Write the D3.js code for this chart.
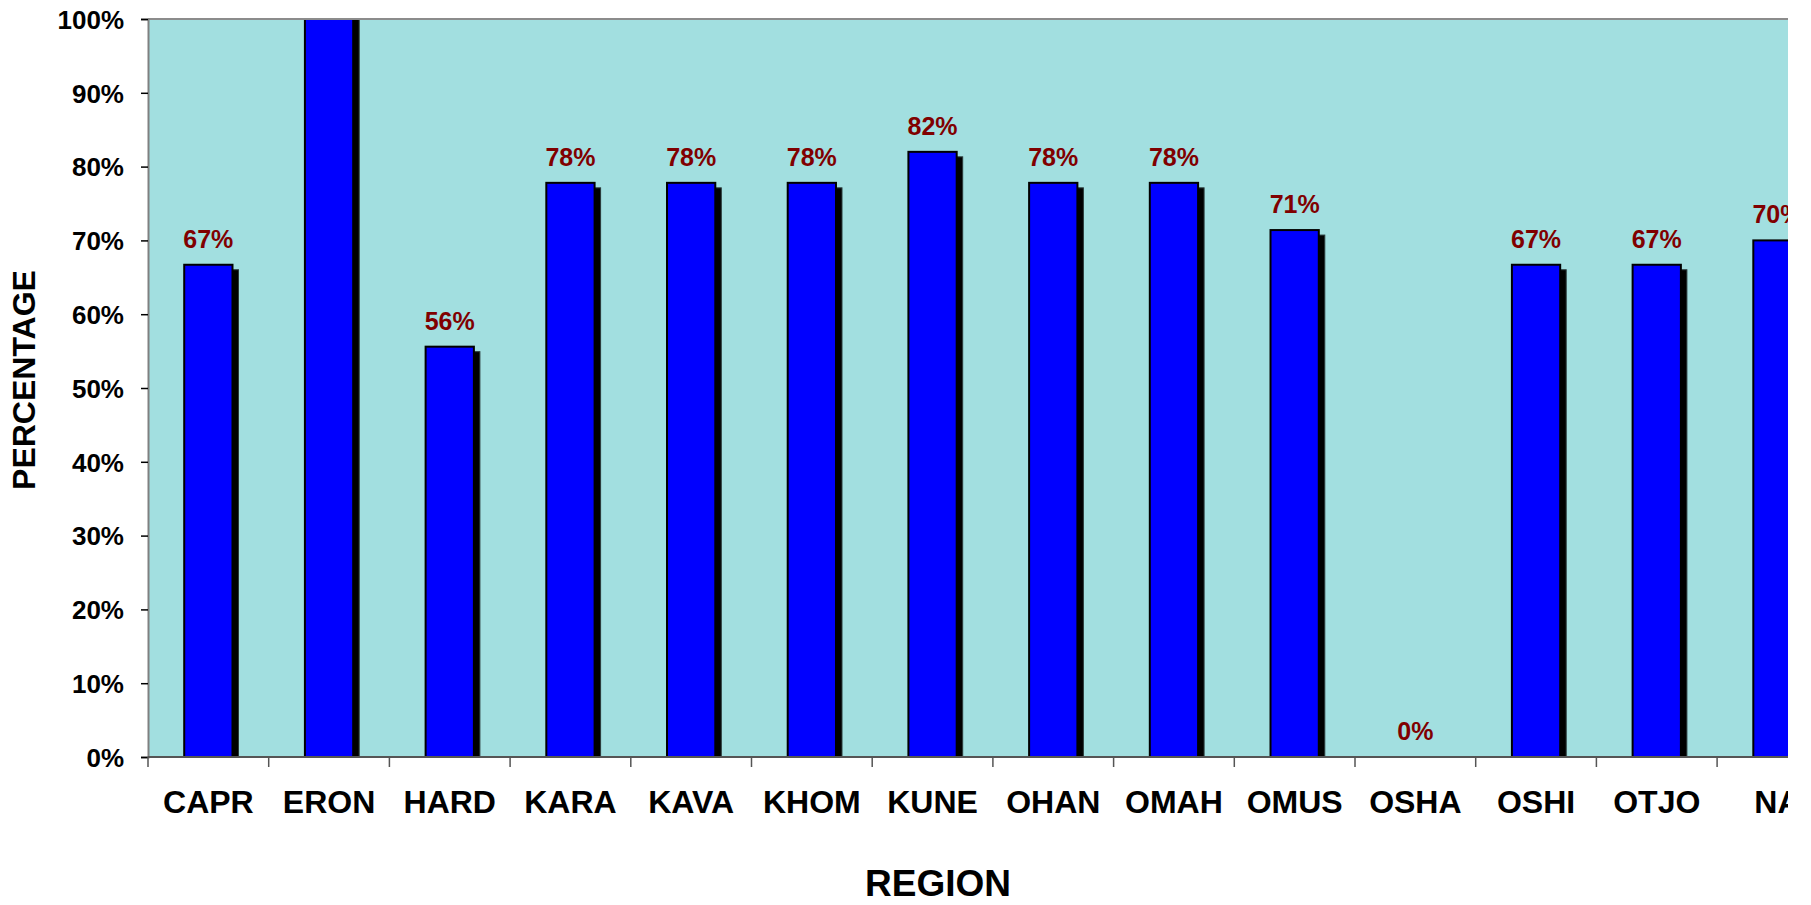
<!DOCTYPE html>
<html>
<head>
<meta charset="utf-8">
<title>Percentage by region</title>
<script src="https://d3js.org/d3.v7.min.js"></script>
<style>
  body { margin: 0; background: #fff; overflow: hidden; }
  text { font-family: "Liberation Sans", Arial, sans-serif; font-weight: bold; }
</style>
</head>
<body>
<div id="chart"></div>
<script>
// data
var regions = ["CAPR", "ERON", "HARD", "KARA", "KAVA", "KHOM", "KUNE",
               "OHAN", "OMAH", "OMUS", "OSHA", "OSHI", "OTJO", "NA"];
var percentages = [0.667, 1.0, 0.556, 0.778, 0.778, 0.778, 0.82,
                   0.778, 0.778, 0.714, 0, 0.667, 0.667, 0.70];
var yTicks = [0, 0.1, 0.2, 0.3, 0.4, 0.5, 0.6, 0.7, 0.8, 0.9, 1.0];

// the original chart runs past the right edge, so the page cuts it at 1788
var width = 1788, height = 905;
var plotLeft = 148, plotTop = 19, plotBottom = 757;
var step = 120.7;
var plotRight = plotLeft + regions.length * step;

var svg = d3.select("#chart")
    .append("svg")
    .attr("width", width)
    .attr("height", height);

var x = d3.scaleBand()
    .domain(regions)
    .range([plotLeft, plotRight])
    .paddingInner(0.6)
    .paddingOuter(0.3);

var y = d3.scaleLinear()
    .domain([0, 1])
    .range([plotBottom, plotTop]);

svg.append("clipPath")
    .attr("id", "plotclip")
  .append("rect")
    .attr("x", plotLeft)
    .attr("y", plotTop)
    .attr("width", plotRight - plotLeft)
    .attr("height", plotBottom - plotTop);

// plot background
svg.append("rect")
    .attr("x", plotLeft)
    .attr("y", plotTop)
    .attr("width", plotRight - plotLeft)
    .attr("height", plotBottom - plotTop)
    .attr("fill", "#a2dfe0");

var plot = svg.append("g").attr("clip-path", "url(#plotclip)");

// shadows behind the bars (full height bars get a shadow up to the border)
plot.selectAll(".shadow")
    .data(percentages)
    .enter()
    .append("rect")
      .attr("class", "shadow")
      .attr("x", function(d, i) { return x(regions[i]) + 6; })
      .attr("y", function(d) { return d >= 1 ? y(d) : y(d) + 5; })
      .attr("width", x.bandwidth())
      .attr("height", function(d) { return Math.max(0, plotBottom - y(d) - (d >= 1 ? 0 : 5)); })
      .attr("fill", "#000")
      .attr("stroke", "#2a3a3a")
      .attr("stroke-width", 1);

// the bars
plot.selectAll(".bar")
    .data(percentages)
    .enter()
    .append("rect")
      .attr("class", "bar")
      .attr("x", function(d, i) { return x(regions[i]); })
      .attr("y", function(d) { return y(d); })
      .attr("width", x.bandwidth())
      .attr("height", function(d) { return plotBottom - y(d); })
      .attr("fill", "#0000ff")
      .attr("stroke", "#000")
      .attr("stroke-width", 2)
      .style("display", function(d) { return d > 0 ? null : "none"; });

// value labels
plot.selectAll(".lbl")
    .data(percentages)
    .enter()
    .append("text")
      .attr("class", "lbl")
      .attr("x", function(d, i) { return x(regions[i]) + x.bandwidth() / 2; })
      .attr("y", function(d) { return y(d) - 17; })
      .attr("text-anchor", "middle")
      .attr("font-size", 25)
      .attr("fill", "#800000")
      .text(function(d) { return d3.format(".0%")(d); });

// top border of the plot area
svg.append("line")
    .attr("x1", plotLeft).attr("x2", plotRight)
    .attr("y1", plotTop).attr("y2", plotTop)
    .attr("stroke", "#8c8c8c")
    .attr("stroke-width", 2);

// y axis
var yAxis = svg.append("g")
    .attr("transform", "translate(" + plotLeft + ",0)")
    .call(d3.axisLeft(y)
        .tickValues(yTicks)
        .tickFormat(d3.format(".0%"))
        .tickSize(7)
        .tickPadding(17));
yAxis.select(".domain").attr("stroke", "#808080").attr("stroke-width", 2);
yAxis.selectAll(".tick line").attr("stroke", "#000").attr("stroke-width", 1.5);
yAxis.selectAll(".tick text")
    .attr("font-size", 26)
    .attr("fill", "#000")
    .attr("dy", "0.36em")
    .style("font-family", "'Liberation Sans', Arial, sans-serif");

// x axis: labels from the band scale, ticks on the band edges
var xAxis = svg.append("g")
    .attr("transform", "translate(0," + plotBottom + ")")
    .call(d3.axisBottom(x).tickSize(0).tickPadding(33));
xAxis.select(".domain").remove();
xAxis.selectAll(".tick text")
    .attr("font-size", 32)
    .attr("fill", "#000")
    .attr("dy", "0.71em")
    .style("font-family", "'Liberation Sans', Arial, sans-serif");

svg.append("line")
    .attr("x1", plotLeft).attr("x2", plotRight)
    .attr("y1", plotBottom).attr("y2", plotBottom)
    .attr("stroke", "#555")
    .attr("stroke-width", 2);

svg.append("g").selectAll("line")
    .data(d3.range(regions.length + 1))
    .enter()
    .append("line")
      .attr("x1", function(i) { return plotLeft + i * x.step(); })
      .attr("x2", function(i) { return plotLeft + i * x.step(); })
      .attr("y1", plotBottom)
      .attr("y2", plotBottom + 10)
      .attr("stroke", "#555")
      .attr("stroke-width", 1.5);

// axis titles
svg.append("text")
    .attr("x", 938)
    .attr("y", 896)
    .attr("text-anchor", "middle")
    .attr("font-size", 37)
    .attr("fill", "#000")
    .text("REGION");

svg.append("text")
    .attr("transform", "translate(35,380) rotate(-90)")
    .attr("text-anchor", "middle")
    .attr("font-size", 32)
    .attr("fill", "#000")
    .text("PERCENTAGE");
</script>
</body>
</html>
